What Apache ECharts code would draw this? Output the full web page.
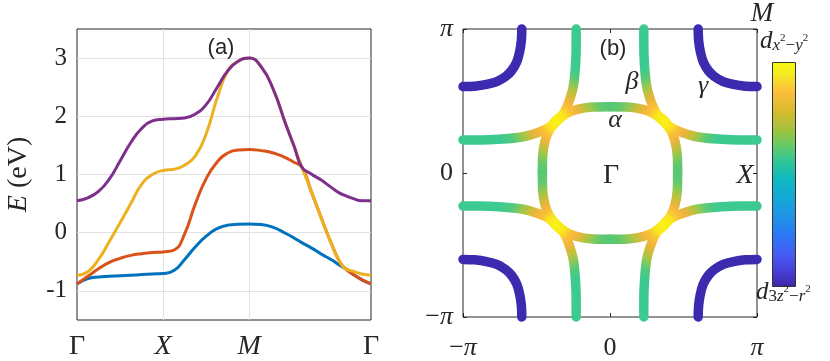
<!DOCTYPE html>
<html>
<head>
<meta charset="utf-8">
<script src="https://cdn.jsdelivr.net/npm/echarts@6/dist/echarts.min.js"></script>
<style>
html, body { margin: 0; padding: 0; background: #fff; }
#chart { width: 830px; height: 361px; }
</style>
</head>
<body>
<div id="chart"></div>
<script>
// (a) band structure along Γ-X-M-Γ
const kTicks = [0, 1, 2, 3.414];
const kLabels = ['Γ', 'X', 'M', 'Γ'];
const eTicks = [-1, 0, 1, 2, 3];
const kPath = [0, 0.125, 0.25, 0.375, 0.5, 0.625, 0.75, 0.875, 1,
  1.125, 1.25, 1.375, 1.5, 1.625, 1.75, 1.875, 2,
  2.14, 2.28, 2.42, 2.52, 2.61, 2.72, 2.84, 2.96, 3.05, 3.11, 3.2, 3.31, 3.414];
const bandBlue = [-0.88, -0.79, -0.76, -0.75, -0.74, -0.73, -0.72, -0.71, -0.70,
  -0.65, -0.46, -0.24, -0.06, 0.07, 0.13, 0.145, 0.15,
  0.14, 0.09, -0.01, -0.09, -0.17, -0.26, -0.37, -0.47, -0.56, -0.61, -0.71, -0.81, -0.88];
const bandRed = [-0.88, -0.75, -0.62, -0.51, -0.44, -0.39, -0.36, -0.34, -0.33,
  -0.30, -0.02, 0.50, 0.93, 1.21, 1.37, 1.42, 1.43,
  1.41, 1.37, 1.29, 1.21, 1.13, 0.71, 0.24, -0.21, -0.50, -0.61, -0.71, -0.81, -0.88];
const bandYellow = [-0.73, -0.67, -0.46, -0.15, 0.17, 0.50, 0.83, 1.0, 1.07,
  1.09, 1.16, 1.32, 1.70, 2.30, 2.78, 2.95, 3.0,
  2.85, 2.46, 1.88, 1.49, 1.13, 0.71, 0.24, -0.21, -0.50, -0.61, -0.66, -0.71, -0.73];
const bandPurple = [0.55, 0.60, 0.71, 0.92, 1.23, 1.55, 1.79, 1.92, 1.95,
  1.96, 1.97, 2.04, 2.20, 2.49, 2.78, 2.95, 3.0,
  2.85, 2.46, 1.88, 1.49, 1.13, 1.01, 0.90, 0.77, 0.68, 0.64, 0.59, 0.55, 0.55];

// (b) Fermi surface, kx and ky in units of π
const piTicks = [-1, 0, 1];
const piLabels = ['−π', '0', 'π'];
const gammaTL = [[-0.6, 1.0], [-0.603, 0.92], [-0.615, 0.84], [-0.635, 0.77], [-0.67, 0.71], [-0.71, 0.67], [-0.77, 0.635], [-0.84, 0.615], [-0.92, 0.603], [-1.0, 0.6]];
const gammaTR = [[0.6, 1.0], [0.603, 0.92], [0.615, 0.84], [0.635, 0.77], [0.67, 0.71], [0.71, 0.67], [0.77, 0.635], [0.84, 0.615], [0.92, 0.603], [1.0, 0.6]];
const gammaBL = [[-0.6, -1.0], [-0.603, -0.92], [-0.615, -0.84], [-0.635, -0.77], [-0.67, -0.71], [-0.71, -0.67], [-0.77, -0.635], [-0.84, -0.615], [-0.92, -0.603], [-1.0, -0.6]];
const gammaBR = [[0.6, -1.0], [0.603, -0.92], [0.615, -0.84], [0.635, -0.77], [0.67, -0.71], [0.71, -0.67], [0.77, -0.635], [0.84, -0.615], [0.92, -0.603], [1.0, -0.6]];
const betaTL = [[-0.23, 1.0], [-0.23, 0.89], [-0.234, 0.76], [-0.25, 0.6], [-0.285, 0.48], [-0.32, 0.41], [-0.367, 0.367], [-0.41, 0.32], [-0.48, 0.285], [-0.6, 0.25], [-0.76, 0.234], [-0.89, 0.23], [-1.0, 0.23]];
const betaTR = [[0.23, 1.0], [0.23, 0.89], [0.234, 0.76], [0.25, 0.6], [0.285, 0.48], [0.32, 0.41], [0.367, 0.367], [0.41, 0.32], [0.48, 0.285], [0.6, 0.25], [0.76, 0.234], [0.89, 0.23], [1.0, 0.23]];
const betaBL = [[-0.23, -1.0], [-0.23, -0.89], [-0.234, -0.76], [-0.25, -0.6], [-0.285, -0.48], [-0.32, -0.41], [-0.367, -0.367], [-0.41, -0.32], [-0.48, -0.285], [-0.6, -0.25], [-0.76, -0.234], [-0.89, -0.23], [-1.0, -0.23]];
const betaBR = [[0.23, -1.0], [0.23, -0.89], [0.234, -0.76], [0.25, -0.6], [0.285, -0.48], [0.32, -0.41], [0.367, -0.367], [0.41, -0.32], [0.48, -0.285], [0.6, -0.25], [0.76, -0.234], [0.89, -0.23], [1.0, -0.23]];
const alphaTL = [[0, 0.46], [-0.12, 0.458], [-0.23, 0.44], [-0.30, 0.41], [-0.36, 0.36], [-0.41, 0.30], [-0.44, 0.23], [-0.458, 0.12], [-0.46, 0]];
const alphaTR = [[0, 0.46], [0.12, 0.458], [0.23, 0.44], [0.30, 0.41], [0.36, 0.36], [0.41, 0.30], [0.44, 0.23], [0.458, 0.12], [0.46, 0]];
const alphaBL = [[0, -0.46], [-0.12, -0.458], [-0.23, -0.44], [-0.30, -0.41], [-0.36, -0.36], [-0.41, -0.30], [-0.44, -0.23], [-0.458, -0.12], [-0.46, 0]];
const alphaBR = [[0, -0.46], [0.12, -0.458], [0.23, -0.44], [0.30, -0.41], [0.36, -0.36], [0.41, -0.30], [0.44, -0.23], [0.458, -0.12], [0.46, 0]];

// parula-like colours
const bandColors = ['#0072BD', '#D95319', '#EDB120', '#7E2F8E'];
const gammaColor = '#3D2BAF';
// radial colour stops around the diagonal (yellow) point of each sheet
const betaStops = [[0, '#F9F414'], [0.08, '#FAE41F'], [0.13, '#F8C237'], [0.19, '#F2B43C'], [0.26, '#C6BF3A'], [0.32, '#93C853'], [0.39, '#55C97A'], [0.47, '#3DCA90'], [1, '#3DCA90']];
const alphaStops = [[0, '#F9F414'], [0.13, '#FAE41F'], [0.21, '#F8C237'], [0.29, '#F2B43C'], [0.39, '#C6BF3A'], [0.49, '#93C853'], [0.6, '#62C86E'], [0.73, '#58C774'], [1, '#58C774']];
const parulaStops = [[0, '#F9FB0E'], [0.06, '#F5E722'], [0.14, '#FBBC3C'], [0.22, '#D8BA2E'], [0.30, '#A3C23D'], [0.37, '#68C966'], [0.44, '#32C597'], [0.52, '#10B9BE'], [0.60, '#13A9D8'], [0.68, '#1F95E6'], [0.77, '#2B78F3'], [0.86, '#4659F4'], [0.93, '#4640D6'], [1, '#3E26A8']];

const axisColor = '#262626';
const serif = 'Liberation Serif';

function grad(cx, cy, r, stops) {
    return new echarts.graphic.RadialGradient(cx, cy, r,
        stops.map(s => ({ offset: s[0], color: s[1] })));
}

function fsLine(data, color, z) {
    return {
        type: 'line', xAxisIndex: 1, yAxisIndex: 1, data: data,
        smooth: 0.35, symbol: 'none', clip: false, z: z, silent: true,
        lineStyle: { color: color, width: 9.5, cap: 'round', join: 'round' }
    };
}

const bandSeries = [bandBlue, bandRed, bandYellow, bandPurple].map((b, i) => ({
    type: 'line', xAxisIndex: 0, yAxisIndex: 0, smooth: 0.5, symbol: 'none',
    data: kPath.map((k, j) => [k, b[j]]),
    lineStyle: { color: bandColors[i], width: 3 }
}));

// centre of yellow spot relative to each sheet's bounding box
const bC = 0.797, aC = 0.252;
const fsSeries = [
    fsLine(gammaTL, gammaColor, 3), fsLine(gammaTR, gammaColor, 3),
    fsLine(gammaBL, gammaColor, 3), fsLine(gammaBR, gammaColor, 3),
    fsLine(alphaTL, grad(aC, aC, 1, alphaStops), 3), fsLine(alphaTR, grad(1 - aC, aC, 1, alphaStops), 3),
    fsLine(alphaBL, grad(aC, 1 - aC, 1, alphaStops), 3), fsLine(alphaBR, grad(1 - aC, 1 - aC, 1, alphaStops), 3),
    fsLine(betaTL, grad(bC, bC, 1, betaStops), 4), fsLine(betaTR, grad(1 - bC, bC, 1, betaStops), 4),
    fsLine(betaBL, grad(bC, 1 - bC, 1, betaStops), 4), fsLine(betaBR, grad(1 - bC, 1 - bC, 1, betaStops), 4)
];

const richMath = {
    it: { fontFamily: serif, fontStyle: 'italic', fontSize: 28, color: axisColor },
    up: { fontFamily: serif, fontSize: 28, color: axisColor }
};

function txt(text, x, y, font) {
    return {
        type: 'text', x: x, y: y, z: 50, silent: true,
        style: { text: text, font: font, fill: axisColor, align: 'center', verticalAlign: 'middle' }
    };
}

// sub/superscripts for the colour bar labels
const subRich = {
    d: { fontFamily: serif, fontStyle: 'italic', fontSize: 25, verticalAlign: 'top', color: axisColor },
    s: { fontFamily: serif, fontStyle: 'italic', fontSize: 17, verticalAlign: 'top', padding: [8, 0, 0, 0], color: axisColor },
    n: { fontFamily: serif, fontSize: 17, verticalAlign: 'top', padding: [8, 0, 0, 0], color: axisColor },
    p: { fontFamily: serif, fontSize: 11, verticalAlign: 'top', padding: [3.5, 0, 0, 0], color: axisColor }
};

function piAxisLabel(margin) {
    return {
        margin: margin, color: axisColor, fontFamily: serif, fontSize: 26,
        rich: { it: { fontFamily: serif, fontStyle: 'italic', fontSize: 26, color: axisColor } },
        formatter: v => piLabels[piTicks.indexOf(v)].replace('π', '{it|π}')
    };
}

const inTick = { show: true, inside: true, length: 4, lineStyle: { color: axisColor } };

const chart = echarts.init(document.getElementById('chart'));
chart.setOption({
    animation: false,
    backgroundColor: '#fff',
    grid: [
        { left: 77, top: 29, width: 294, height: 293, show: true, borderColor: axisColor, borderWidth: 1, backgroundColor: 'transparent' },
        { left: 463, top: 29, width: 294, height: 293, show: true, borderColor: axisColor, borderWidth: 1, backgroundColor: 'transparent' }
    ],
    xAxis: [
        {
            gridIndex: 0, type: 'value', min: 0, max: kTicks[3],
            axisLine: { show: false, onZero: false },
            axisTick: { show: false, customValues: kTicks },
            axisLabel: {
                customValues: kTicks, margin: 13, rich: richMath,
                formatter: v => {
                    const s = kLabels[kTicks.indexOf(v)];
                    return s === 'Γ' ? '{up|' + s + '}' : '{it|' + s + '}';
                }
            },
            splitLine: { show: true, showMinLine: false, showMaxLine: false, lineStyle: { color: '#e2e2e2', width: 1 } }
        },
        {
            gridIndex: 1, type: 'value', min: -1, max: 1, interval: 1,
            axisLine: { show: false, onZero: false },
            axisTick: inTick,
            axisLabel: piAxisLabel(18),
            splitLine: { show: false }
        },
        {
            gridIndex: 1, type: 'value', position: 'top', min: -1, max: 1, interval: 1,
            axisLine: { show: false, onZero: false },
            axisTick: inTick,
            axisLabel: { show: false }, splitLine: { show: false }
        }
    ],
    yAxis: [
        {
            gridIndex: 0, type: 'value', min: -1.5, max: 3.5,
            name: '{it|E} (eV)', nameLocation: 'middle', nameGap: 44,
            nameTextStyle: {
                fontFamily: serif, fontSize: 28, color: axisColor,
                rich: { it: { fontFamily: serif, fontStyle: 'italic', fontSize: 28, color: axisColor } }
            },
            axisLine: { show: false, onZero: false },
            axisTick: { show: false, customValues: eTicks },
            axisLabel: { customValues: eTicks, margin: 10, color: axisColor, fontFamily: serif, fontSize: 25 },
            splitLine: { show: true, lineStyle: { color: '#e2e2e2', width: 1 } }
        },
        {
            gridIndex: 1, type: 'value', min: -1, max: 1, interval: 1,
            axisLine: { show: false, onZero: false },
            axisTick: inTick,
            axisLabel: piAxisLabel(10),
            splitLine: { show: false }
        },
        {
            gridIndex: 1, type: 'value', position: 'right', min: -1, max: 1, interval: 1,
            axisLine: { show: false, onZero: false },
            axisTick: inTick,
            axisLabel: { show: false }, splitLine: { show: false }
        }
    ],
    series: bandSeries.concat(fsSeries),
    graphic: [
        txt('(a)', 221, 48, '22px "Liberation Sans"'),
        txt('(b)', 613, 49, '22px "Liberation Sans"'),
        txt('β', 632, 82, 'italic 26px "Liberation Serif"'),
        txt('γ', 703, 86, 'italic 26px "Liberation Serif"'),
        txt('α', 615, 120, 'italic 26px "Liberation Serif"'),
        txt('Γ', 611, 176, '28px "Liberation Serif"'),
        txt('X', 745, 176, 'italic 28px "Liberation Serif"'),
        txt('M', 762, 14, 'italic 27px "Liberation Serif"'),
        {
            type: 'rect', z: 40, silent: true,
            shape: { x: 772.5, y: 62.5, width: 23, height: 224 },
            style: {
                fill: new echarts.graphic.LinearGradient(0, 0, 0, 1, parulaStops.map(s => ({ offset: s[0], color: s[1] }))),
                stroke: '#333', lineWidth: 1
            }
        },
        {
            type: 'text', x: 760, y: 29, z: 50, silent: true,
            style: { text: '{d|d}{s|x}{p|2}{n|−}{s|y}{p|2}', rich: subRich, fill: axisColor, align: 'left', verticalAlign: 'top' }
        },
        {
            type: 'text', x: 756, y: 280, z: 50, silent: true,
            style: { text: '{d|d}{n|3}{s|z}{p|2}{n|−}{s|r}{p|2}', rich: subRich, fill: axisColor, align: 'left', verticalAlign: 'top' }
        }
    ]
});
</script>
</body>
</html>
